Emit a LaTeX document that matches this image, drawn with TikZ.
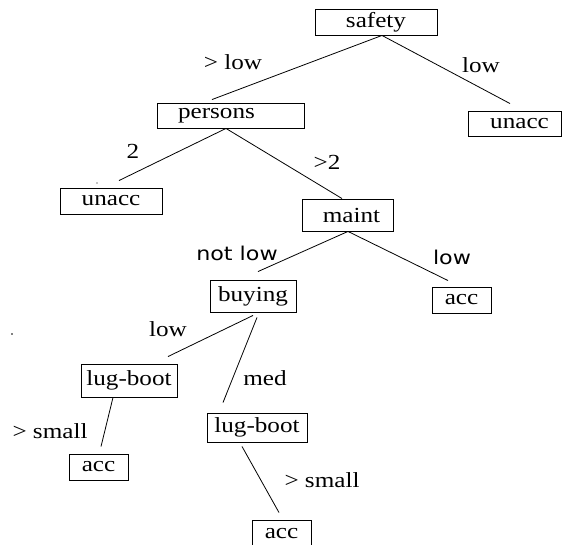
\documentclass[tikz,border=0pt]{standalone}
\usepackage{fontspec}
\usepackage{graphicx}
\setmainfont{Liberation Serif}
\newfontfamily\serf{Liberation Serif}
\newfontfamily\sansf{DejaVu Sans}
\usetikzlibrary{calc}
% text is set slightly wide
\newcommand{\wide}[1]{\scalebox{1.17}[1]{#1}}
\tikzset{
  leaf/.style={draw, line width=0.9pt, inner sep=0pt, font=\serf\fontsize{21.5}{24}\selectfont},
  edge/.style={line width=0.8pt},
  lab/.style={inner sep=1pt, font=\serf\fontsize{21.5}{24}\selectfont},
  slab/.style={inner sep=1pt, fill=white, font=\sansf\fontsize{19}{22}\selectfont},
}
\begin{document}
\begin{tikzpicture}[x=1pt, y=-1pt]
\useasboundingbox[fill=white] (0,0) rectangle (562,545);

% boxes
\node[leaf, minimum width=122pt, minimum height=26pt] (safety)  at (376,22)    {\wide{safety}};
\node[leaf, minimum width=147pt, minimum height=25pt] (persons) at (230.5,115.5) {\wide{persons}\rule{28pt}{0pt}};
\node[leaf, minimum width=93pt,  minimum height=25pt] (unaccR)  at (514.5,123.5) {\rule{10pt}{0pt}\wide{unacc}};
\node[leaf, minimum width=102pt, minimum height=26pt] (unaccL)  at (111,201)   {\wide{unacc}};
\node[leaf, minimum width=91pt,  minimum height=32pt] (maint)   at (347.5,215) {\rule{8pt}{0pt}\wide{maint}};
\node[leaf, minimum width=86pt,  minimum height=32pt] (buying)  at (253,296)   {\wide{buying}};
\node[leaf, minimum width=59pt,  minimum height=26pt] (accR)    at (461.5,300) {\wide{acc}};
\node[leaf, minimum width=96pt,  minimum height=33pt] (lugL)    at (129,380.5) {\wide{lug-boot}};
\node[leaf, minimum width=100pt, minimum height=29pt] (lugM)    at (257,427.5) {\wide{lug-boot}};
\node[leaf, minimum width=59pt,  minimum height=26pt] (accL)    at (98.5,467)  {\wide{acc}};
\node[leaf, minimum width=59pt,  minimum height=28pt] (accB)    at (281.5,534) {\wide{acc}};

% branches
\draw[edge] ($(safety.south)+(6,0)$)    -- ($(persons.north)+(-18.5,-3)$);
\draw[edge] ($(safety.south)+(6,0)$)    -- ($(unaccR.north)+(-4.5,-7)$);
\draw[edge] ($(persons.south)+(-4.5,0)$) -- ($(unaccL.north)+(8,-7)$);
\draw[edge] ($(persons.south)+(-4.5,0)$) -- ($(maint.north)+(-5.5,0)$);
\draw[edge] ($(maint.south)+(0.5,0)$)   -- ($(buying.north)+(5,-8)$);
\draw[edge] ($(maint.south)+(0.5,0)$)   -- ($(accR.north)+(-13.5,-6)$);
\draw[edge] ($(buying.south)+(0,3)$)    -- ($(lugL.north)+(39,-7)$);
\draw[edge] ($(buying.south)+(4,5)$)    -- ($(lugM.north)+(-34,-10)$);
\draw[edge] ($(lugL.south)+(-16,0)$)    -- ($(accL.north)+(2.5,-7)$);
\draw[edge] ($(lugM.south)+(-15,4)$)    -- ($(accB.north)+(-2.5,-7)$);

% branch labels
\node[lab]  (l1)  at (233,62)  {\wide{> low}};
\node[lab]  (l2)  at (481,65)  {\wide{low}};
\node[lab]  (l3)  at (133,151) {\wide{2}};
\node[lab]  (l4)  at (327,162) {\wide{>2}};
\node[slab] (l5)  at (237,253) {\wide{not low}};
\node[slab] (l6)  at (452,257) {\wide{low}};
\node[lab]  (l7)  at (168,329) {\wide{low}};
\node[lab]  (l8)  at (265,378) {\wide{med}};
\node[lab]  (l9)  at (50,431)  {\wide{> small}};
\node[lab]  (l10) at (322,480) {\wide{> small}};

% specks
\fill (12,334) circle (0.8pt);
\fill (97,183) circle (0.6pt);
\end{tikzpicture}
\end{document}
